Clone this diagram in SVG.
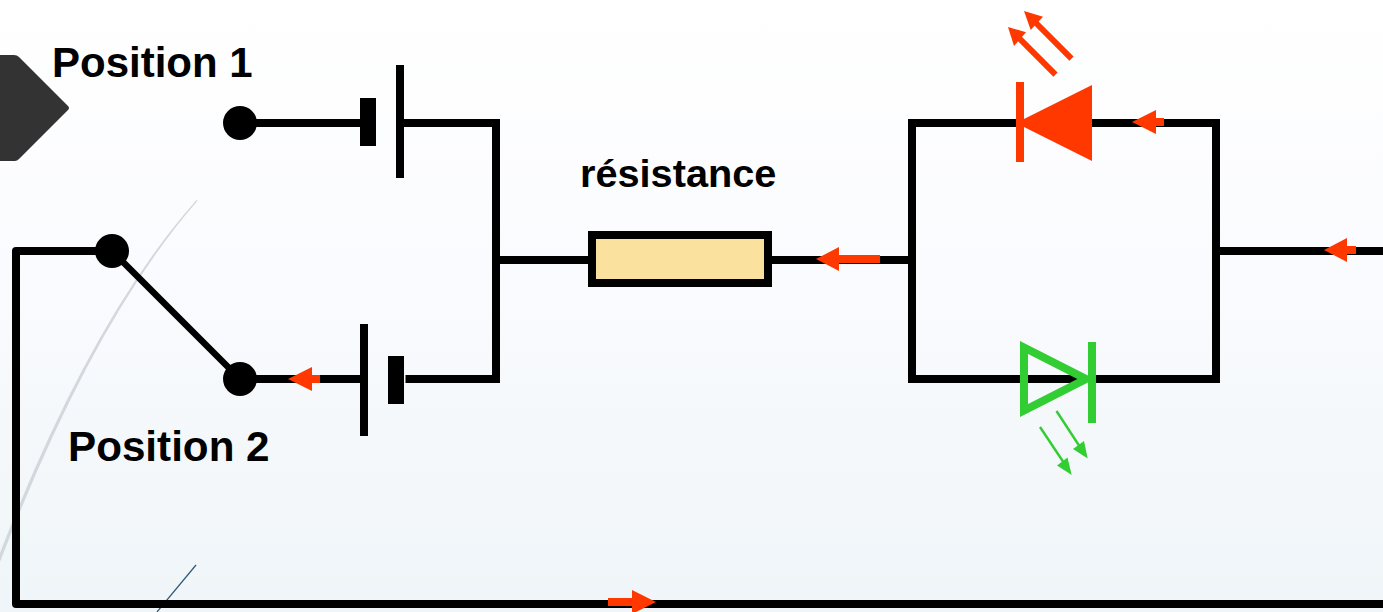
<svg xmlns="http://www.w3.org/2000/svg" width="1383" height="612" viewBox="0 0 1383 612">
<style>
.w{fill:none;stroke:#000;stroke-width:8;stroke-linejoin:miter}
.r{fill:#ff3800}
.g{fill:#32cd32}
.rl{stroke:#ff3800;stroke-width:6;fill:none}
.gl{stroke:#32cd32;stroke-width:2.400;fill:none}
.t{font-family:"Liberation Sans",Arial,sans-serif;font-weight:700;fill:#000}
</style>
<defs>
<linearGradient id="bg" x1="0" y1="0" x2="0" y2="1"><stop offset="0" stop-color="#fff"/><stop offset=".45" stop-color="#fafbfe"/><stop offset="1" stop-color="#eff5f8"/></linearGradient>
</defs>
<rect width="1383" height="612" fill="url(#bg)"/>
<g id="decor">
<path d="M0 55H14Q17 55 19 57L68 106Q70 108 68 110L19 159Q17 161 15 161H0Z" fill="#333"/>
<path d="M196.500 200Q90 320 0 553V562Q92 322 197.500 200.700Z" fill="#d3d8de"/>
<path d="M196 565L157 612" fill="none" stroke="#2f5878" stroke-width="1.200"/>
</g>
<g id="connectors">
<path class="w" d="M240 123H364"/>
<path class="w" d="M404 123H496V379H405.500"/>
<path class="w" d="M496 260H592"/>
<path class="w" d="M770 260H912"/>
<path class="w" d="M1092 123H1216V379H1092"/>
<path class="w" d="M1016 123H912V379H1080"/>
<path class="w" d="M1216 251H1383"/>
<path class="w" style="stroke-linejoin:round" d="M112 251H16V604H1383"/>
<path class="w" d="M240 379H364"/>
<path d="M112 251L240 379" fill="none" stroke="#000" stroke-width="6.500"/>
</g>
<g id="contact-1"><circle cx="240" cy="123" r="17"/></g>
<g id="contact-common"><circle cx="112" cy="251" r="17"/></g>
<g id="contact-2"><circle cx="240" cy="379" r="17"/></g>
<g id="battery-1"><rect x="360" y="98" width="16" height="48"/><rect x="396" y="65" width="8" height="113"/></g>
<g id="battery-2"><rect x="360" y="324" width="8" height="112"/><rect x="388" y="356" width="16" height="48"/></g>
<g id="resistor"><rect x="592" y="235" width="176" height="48" fill="#fae19d" stroke="#000" stroke-width="8"/></g>
<g id="led-red">
<rect class="r" x="1016" y="82" width="8" height="80"/>
<path class="r" d="M1016 123L1092 85V161Z"/>
<path class="rl" d="M1055.500 74.700L1018 37"/>
<path class="r" d="M1008 27L1026 32.300L1014 46Z"/>
<path class="rl" d="M1071.500 58.700L1035 22"/>
<path class="r" d="M1024 11L1043 16.700L1030.700 30Z"/>
</g>
<g id="led-green">
<path d="M1024 347.500V410.500L1086 379Z" fill="none" stroke="#32cd32" stroke-width="8"/>
<rect class="g" x="1088" y="342" width="8" height="81"/>
<path class="gl" d="M1040 427L1064 463"/>
<path class="g" d="M1071.700 475L1057 465.500L1067.500 457.500Z"/>
<path class="gl" d="M1056.500 411L1080 447"/>
<path class="g" d="M1087.700 458.500L1073 449L1084 441Z"/>
</g>
<g id="current-arrows">
<path class="r" d="M1132 122L1156 110V118H1164V126H1156V134Z"/>
<path class="r" d="M816 259L839 247V255H880V263H839V271Z"/>
<path class="r" d="M1324 250L1347 238V246H1356V254H1347V262Z"/>
<path class="r" d="M288 379L312 367V375H320V383H312V391Z"/>
<path class="r" d="M656 602L632 590V598H608V606H632V614Z"/>
</g>
<g id="labels">
<text class="t" font-size="42" x="52" y="77">Position 1</text>
<text class="t" font-size="42.200" x="68" y="461">Position 2</text>
<text class="t" font-size="39.700" x="580" y="187">résistance</text>
</g>
</svg>
